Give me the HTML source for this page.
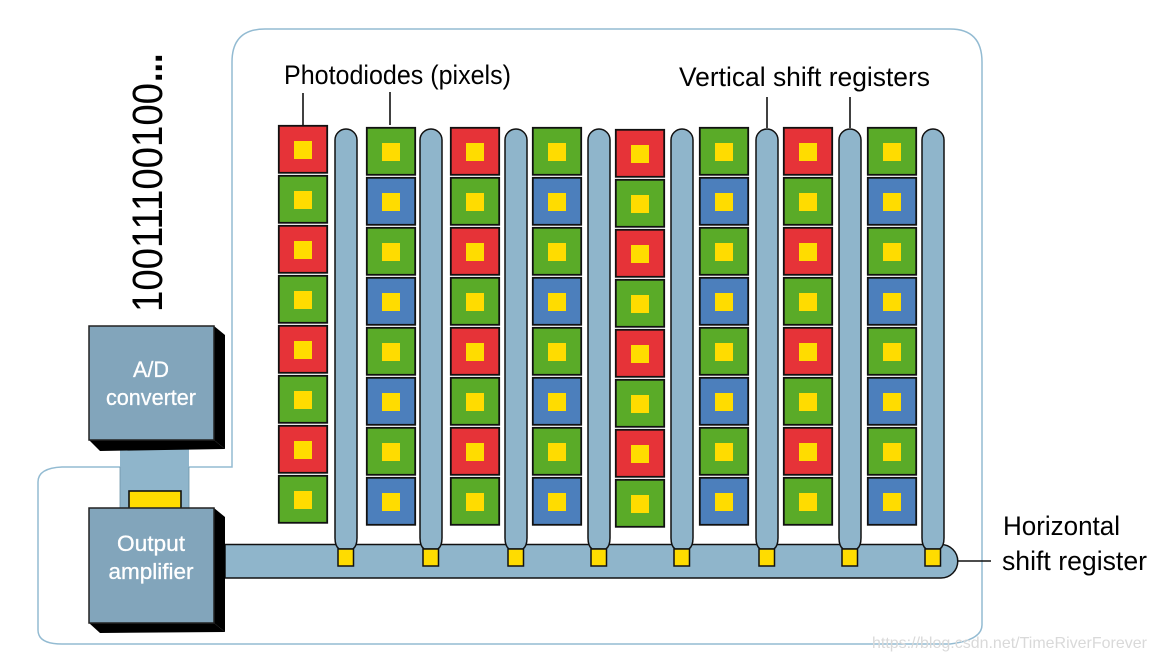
<!DOCTYPE html>
<html><head><meta charset="utf-8"><style>
html,body{margin:0;padding:0;background:#fff;width:1157px;height:660px;overflow:hidden}
svg{display:block}
text{font-family:"Liberation Sans",sans-serif}
</style></head><body>
<svg width="1157" height="660" viewBox="0 0 1157 660" xmlns="http://www.w3.org/2000/svg">
<defs>
<g id="y"><rect x="16" y="16" width="18" height="18" fill="#ffdc00"/></g>
<g id="r"><rect x="0.8" y="0.8" width="48.4" height="47" fill="#e63338" stroke="#111" stroke-width="1.8"/><use href="#y"/></g>
<g id="n"><rect x="0.8" y="0.8" width="48.4" height="47" fill="#5aab28" stroke="#111" stroke-width="1.8"/><use href="#y"/></g>
<g id="b"><rect x="0.8" y="0.8" width="48.4" height="47" fill="#4c7fbc" stroke="#111" stroke-width="1.8"/><use href="#y"/></g>
<g id="c1"><use href="#r"/><use href="#n" y="50"/><use href="#r" y="100"/><use href="#n" y="150"/><use href="#r" y="200"/><use href="#n" y="250"/><use href="#r" y="300"/><use href="#n" y="350"/></g>
<g id="c2"><use href="#n"/><use href="#b" y="50"/><use href="#n" y="100"/><use href="#b" y="150"/><use href="#n" y="200"/><use href="#b" y="250"/><use href="#n" y="300"/><use href="#b" y="350"/></g>
<g id="v"><path d="M1 538V140A11 11 0 0 1 23 140V538Q23 546 19 549H5Q1 546 1 538Z" fill="#8fb5cb" stroke="#111" stroke-width="1.5"/><rect x="4" y="549" width="15.5" height="17" fill="#ffdc00" stroke="#111" stroke-width="1.5"/></g>
</defs>

<path d="M120 467H62Q38 468 38 482V630Q38 644 62 644H950Q982 640 982 625V62Q982 29 950 29H265Q232 29 232 62V467H189" fill="none" stroke="#93bbd2" stroke-width="1.5"/>

<use href="#c1" x="278" y="125"/>
<use href="#c2" x="366" y="127"/>
<use href="#c1" x="450" y="127"/>
<use href="#c2" x="532" y="127"/>
<use href="#c1" x="615" y="129"/>
<use href="#c2" x="699" y="127"/>
<use href="#c1" x="783" y="127"/>
<use href="#c2" x="867" y="127"/>

<path d="M225 544.5H941A16.75 16.75 0 0 1 941 578H225Z" fill="#8fb5cb" stroke="#111" stroke-width="1.5"/>

<use href="#v" x="334"/>
<use href="#v" x="419"/>
<use href="#v" x="504"/>
<use href="#v" x="587"/>
<use href="#v" x="670"/>
<use href="#v" x="755"/>
<use href="#v" x="838"/>
<use href="#v" x="921"/>

<g stroke="#111" stroke-width="1.6">
<line x1="303" y1="93" x2="303" y2="125"/>
<line x1="390" y1="92" x2="390" y2="125"/>
<line x1="767" y1="97" x2="767" y2="128"/>
<line x1="850" y1="97" x2="850" y2="128"/>
<line x1="958" y1="561" x2="991" y2="561"/>
</g>

<path d="M120 446Q154 444 189 446V510H120Z" fill="#8fb5cb"/>
<path d="M120 467V510M189 467V510" stroke="#6d93a8" stroke-width="0.8" fill="none"/>
<rect x="129" y="491" width="52" height="18" fill="#ffdc00" stroke="#111" stroke-width="1.6"/>

<path d="M214 326L225 335V449L214 440Z" fill="#000"/>
<path d="M89 440H214L225 449L100 451Z" fill="#000"/>
<rect x="89" y="326" width="125" height="114" fill="#82a5bb" stroke="#222" stroke-width="1.5"/>
<path d="M214 508L225 517V632L214 623Z" fill="#000"/>
<path d="M89 623H214L225 632L100 633Z" fill="#000"/>
<rect x="89" y="508" width="125" height="115" fill="#82a5bb" stroke="#222" stroke-width="1.5"/>

<g fill="#fff" stroke="#fff" stroke-width="0.3" font-size="22" text-anchor="middle">
<text x="151" y="377" textLength="36" lengthAdjust="spacingAndGlyphs">A/D</text>
<text x="151" y="405" textLength="90" lengthAdjust="spacingAndGlyphs">converter</text>
<text x="151" y="551" textLength="68" lengthAdjust="spacingAndGlyphs">Output</text>
<text x="151" y="579" textLength="85" lengthAdjust="spacingAndGlyphs">amplifier</text>
</g>

<g fill="#000" font-size="27">
<text x="284" y="84" textLength="227" lengthAdjust="spacingAndGlyphs">Photodiodes (pixels)</text>
<text x="679" y="86" textLength="251" lengthAdjust="spacingAndGlyphs">Vertical shift registers</text>
<text x="1003" y="535" textLength="117" lengthAdjust="spacingAndGlyphs">Horizontal</text>
<text x="1002" y="570" textLength="145" lengthAdjust="spacingAndGlyphs">shift register</text>
</g>

<text transform="translate(162,312) rotate(-90)" fill="#000" font-size="43" textLength="229" lengthAdjust="spacingAndGlyphs">10011100100</text>
<text transform="translate(162,82) rotate(-90)" fill="#000" font-size="43" font-weight="bold" textLength="28.5" lengthAdjust="spacingAndGlyphs">...</text>

<text x="872" y="648" fill="#d9d9d9" font-size="16" textLength="275" lengthAdjust="spacingAndGlyphs">https://blog.csdn.net/TimeRiverForever</text>
</svg>
</body></html>
